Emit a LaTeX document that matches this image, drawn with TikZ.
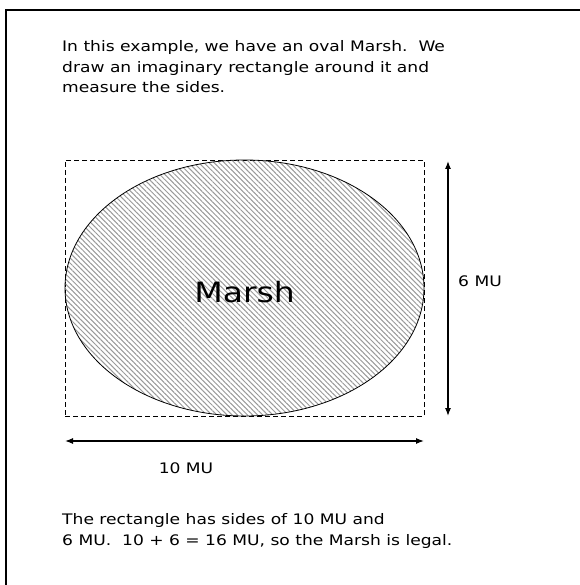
\documentclass[tikz,border=0pt]{standalone}
\usepackage{fontspec}
\setmainfont[FakeStretch=1.18]{DejaVu Sans}
\usetikzlibrary{patterns.meta,arrows.meta}
\tikzset{
  txt/.style={anchor=base west, inner sep=0pt, font=\fontsize{14.5}{20.5}\selectfont, align=left},
  lbl/.style={inner sep=0pt, font=\fontsize{14.5}{17}\selectfont},
  dim/.style={line width=1.2pt, {Latex[length=8pt,width=6pt]}-{Latex[length=8pt,width=6pt]}}
}
\begin{document}
\begin{tikzpicture}[x=1pt,y=1pt]
\useasboundingbox (0,0) rectangle (579,-585);
\draw[line width=2pt] (6,-590) -- (6,-10) -- (585,-10);
\node[txt] (top) at (62,-93) {In this example, we have an oval Marsh.\ \ We\\draw an imaginary rectangle around it and\\measure the sides.};
\node[draw, dash pattern=on 5pt off 3pt, line width=0.8pt, minimum width=359pt, minimum height=256pt, inner sep=0pt] (rect) at (244.5,-288) {};
\draw[line width=0.8pt, pattern={Lines[angle=-45, distance=3.6pt, line width=1pt]}, pattern color=black!40] (244.5,-288) ellipse [x radius=179.5, y radius=128];
\node[inner sep=0pt, font=\fontsize{28}{32}\selectfont] (marsh) at (244.5,-292) {Marsh};
\coordinate (vt) at (448,-161);
\coordinate (vb) at (448,-416);
\draw[dim] (vt) -- (vb);
\node[lbl, anchor=west] (six) at (458,-281) {6 MU};
\coordinate (hl) at (65,-441);
\coordinate (hr) at (424,-441);
\draw[dim] (hl) -- (hr);
\node[lbl] (ten) at (186,-468) {10 MU};
\node[txt] (bot) at (62,-545) {The rectangle has sides of 10 MU and\\6 MU.\ \ 10 + 6 = 16 MU, so the Marsh is legal.};
\end{tikzpicture}
\end{document}
